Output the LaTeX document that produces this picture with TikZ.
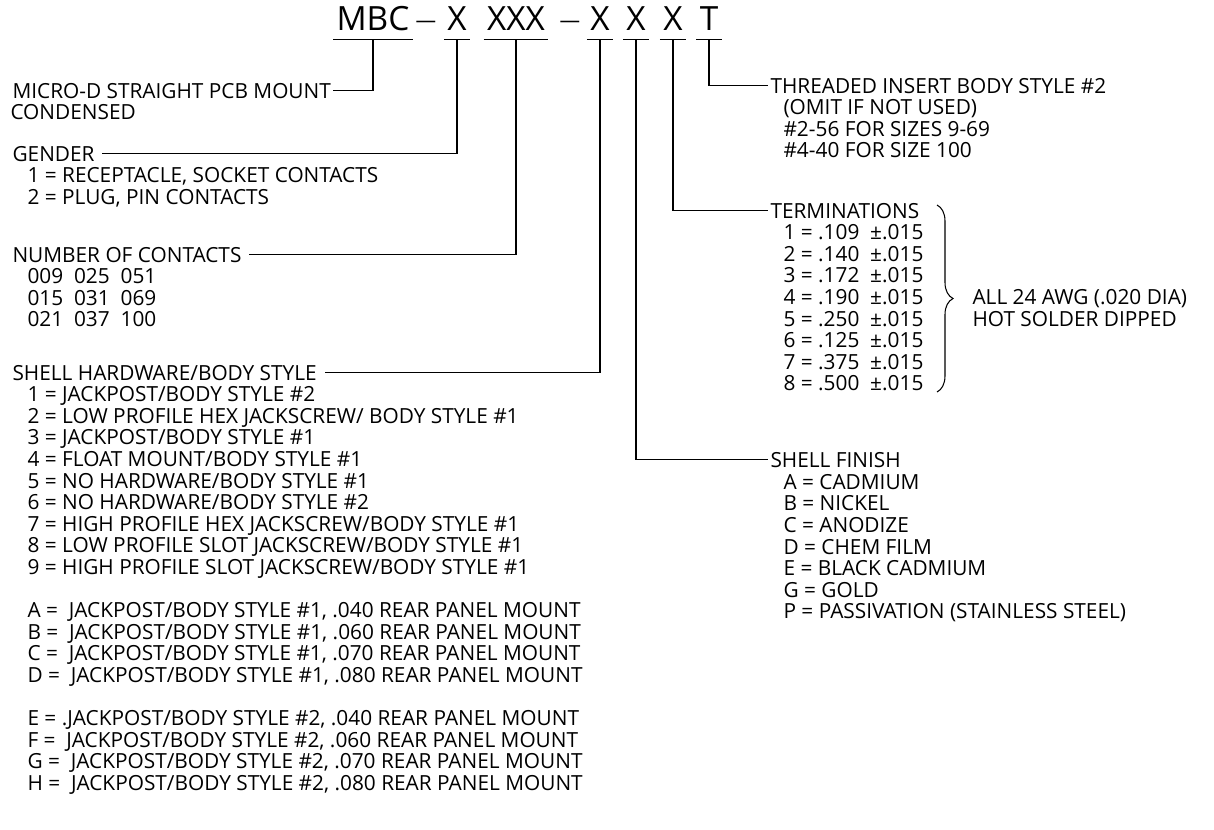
\documentclass[tikz,border=0pt]{standalone}
\usepackage{fontspec}
\setmainfont{Open Sans}
\usetikzlibrary{decorations.pathreplacing}

\newcommand{\bodyfont}{\fontsize{11.85pt}{12.29pt}\selectfont}
\newcommand{\codefont}{\fontsize{19pt}{22pt}\selectfont}
\newcommand{\dashfont}{\fontsize{11.7pt}{13pt}\selectfont}

\begin{document}
\begin{tikzpicture}[
  x=0.02cm, y=-0.02cm,
  line width=0.6pt,
  every node/.style={inner sep=0pt},
  code/.style={font=\codefont, anchor=base, inner xsep=0.06cm, text depth=0.18cm},
  head/.style={font=\bodyfont, anchor=base west, inner xsep=0.04cm, text height=8.4pt, text depth=0pt},
  list/.style={font=\bodyfont, anchor=base west, align=left},
]
\useasboundingbox (0,0) rectangle (1214,829);

% Part number
\node[code] (mbc) at (373,30) {MBC};
\node[code, font=\dashfont] (d1) at (426,27) {—};
\node[code] (gen) at (457,30) {X};
\node[code] (cnt) at (516,30) {XXX};
\node[code, font=\dashfont] (d2) at (570,27) {—};
\node[code] (hw) at (600,30) {X};
\node[code] (fin) at (636,30) {X};
\node[code] (term) at (673,30) {X};
\node[code] (thr) at (709,30) {T};
\foreach \n in {mbc,gen,cnt,hw,fin,term,thr}
  \draw (\n.south west) -- (\n.south east);

% Left column (base anchor = last line)
\node[head] (desc) at (10,98) {MICRO-D STRAIGHT PCB MOUNT};
\node[list] (descl) at ([shift={(0,21.6)}]desc.base west) {CONDENSED};

\node[head] (genh) at (10,161) {GENDER};
\node[list] (genl) at ([shift={(17,43.2)}]genh.base west) {1 = RECEPTACLE, SOCKET CONTACTS\\2 = PLUG, PIN CONTACTS};

\node[head] (cnth) at (10,262) {NUMBER OF CONTACTS};
\node[list] (cntl) at ([shift={(17,64.8)}]cnth.base west) {009~~025~~051\\015~~031~~069\\021~~037~~100};

\node[head] (hwh) at (10,380) {SHELL HARDWARE/BODY STYLE};
\node[list] (hwl) at ([shift={(17,194.4)}]hwh.base west) {1 = JACKPOST/BODY STYLE \#2\\
  2 = LOW PROFILE HEX JACKSCREW/ BODY STYLE \#1\\
  3 = JACKPOST/BODY STYLE \#1\\
  4 = FLOAT MOUNT/BODY STYLE \#1\\
  5 = NO HARDWARE/BODY STYLE \#1\\
  6 = NO HARDWARE/BODY STYLE \#2\\
  7 = HIGH PROFILE HEX JACKSCREW/BODY STYLE \#1\\
  8 = LOW PROFILE SLOT JACKSCREW/BODY STYLE \#1\\
  9 = HIGH PROFILE SLOT JACKSCREW/BODY STYLE \#1};
\node[list] (hwa) at ([shift={(17,302.4)}]hwh.base west) {A =~~JACKPOST/BODY STYLE \#1, .040 REAR PANEL MOUNT\\
  B =~~JACKPOST/BODY STYLE \#1, .060 REAR PANEL MOUNT\\
  C =~~JACKPOST/BODY STYLE \#1, .070 REAR PANEL MOUNT\\
  D =~~JACKPOST/BODY STYLE \#1, .080 REAR PANEL MOUNT};
\node[list] (hwe) at ([shift={(17,410.4)}]hwh.base west) {E = .JACKPOST/BODY STYLE \#2, .040 REAR PANEL MOUNT\\
  F =~~JACKPOST/BODY STYLE \#2, .060 REAR PANEL MOUNT\\
  G =~~JACKPOST/BODY STYLE \#2, .070 REAR PANEL MOUNT\\
  H =~~JACKPOST/BODY STYLE \#2, .080 REAR PANEL MOUNT};

% Right column
\node[head] (thrh) at (768,93) {THREADED INSERT BODY STYLE \#2};
\node[list] (thrl) at ([shift={(15,64.8)}]thrh.base west) {(OMIT IF NOT USED)\\\#2-56 FOR SIZES 9-69\\\#4-40 FOR SIZE 100};

\node[head] (termh) at (768,218) {TERMINATIONS};
\node[list] (terml) at ([shift={(15,172.8)}]termh.base west) {1 = .109~~±.015\\2 = .140~~±.015\\3 = .172~~±.015\\4 = .190~~±.015\\5 = .250~~±.015\\6 = .125~~±.015\\7 = .375~~±.015\\8 = .500~~±.015};
\node[list] (awg) at (972,326) {ALL 24 AWG (.020 DIA)\\HOT SOLDER DIPPED};

\node[head] (finh) at (768,467) {SHELL FINISH};
\node[list] (finl) at ([shift={(15,151.9)}]finh.base west) {A = CADMIUM\\B = NICKEL\\C = ANODIZE\\D = CHEM FILM\\E = BLACK CADMIUM\\G = GOLD\\P = PASSIVATION (STAINLESS STEEL)};

% Leaders
\draw (mbc.south) |- (desc.east);
\draw (gen.south) |- ([shift={(5,0)}]genh.east);
\draw (cnt.south) |- ([shift={(5,0)}]cnth.east);
\draw (hw.south) |- ([shift={(6,0)}]hwh.east);
\draw (thr.south) |- (thrh.west);
\draw (term.south) |- (termh.west);
\draw (fin.south) |- (finh.west);

% Brace
\coordinate (bt) at (937,205);
\coordinate (bb) at (937,392);
\draw[decorate, decoration={brace, amplitude=0.32cm}] (bt) -- (bb);

\end{tikzpicture}
\end{document}
